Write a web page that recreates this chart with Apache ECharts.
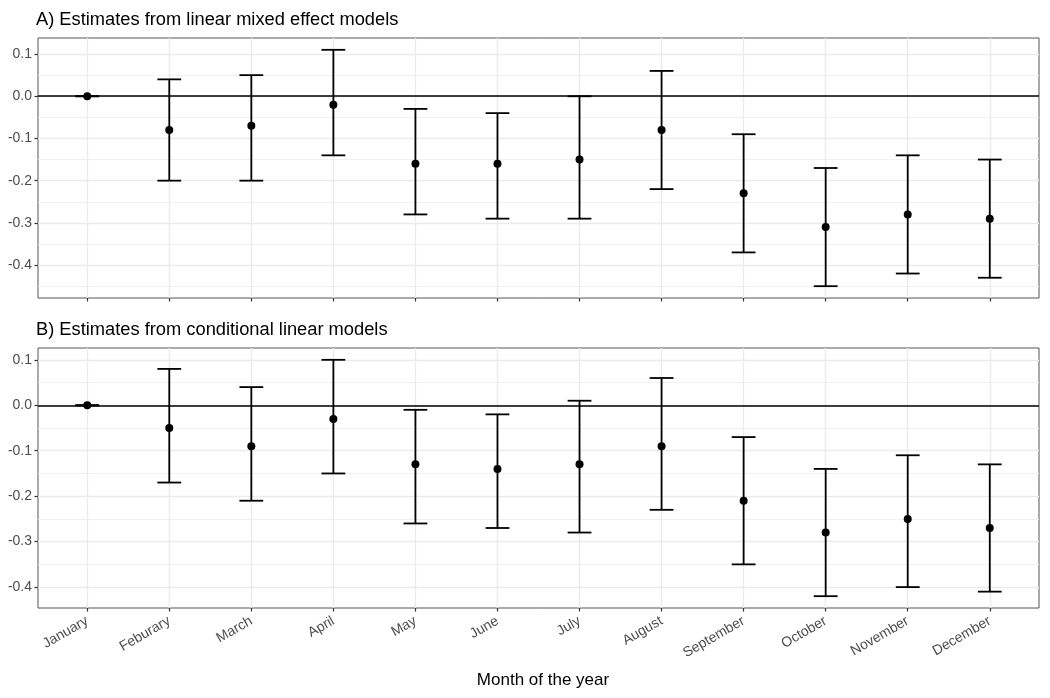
<!DOCTYPE html>
<html>
<head>
<meta charset="utf-8">
<script src="https://cdn.jsdelivr.net/npm/echarts@6/dist/echarts.min.js"></script>
<style>
  html, body { margin: 0; padding: 0; background: #fff; }
  #chart { width: 1050px; height: 698px; }
</style>
</head>
<body>
<div id="chart"></div>
<script>
// month labels (spelling as in the original figure)
const months = ['January', 'Feburary', 'March', 'April', 'May', 'June', 'July',
  'August', 'September', 'October', 'November', 'December']

// A) linear mixed effect models
const mixedEst = [0, -0.08, -0.07, -0.02, -0.16, -0.16, -0.15, -0.08, -0.23, -0.31, -0.28, -0.29]
const mixedLow = [0, -0.20, -0.20, -0.14, -0.28, -0.29, -0.29, -0.22, -0.37, -0.45, -0.42, -0.43]
const mixedHigh = [0, 0.04, 0.05, 0.11, -0.03, -0.04, 0.00, 0.06, -0.09, -0.17, -0.14, -0.15]

// B) conditional linear models
const condEst = [0, -0.05, -0.09, -0.03, -0.13, -0.14, -0.13, -0.09, -0.21, -0.28, -0.25, -0.27]
const condLow = [0, -0.17, -0.21, -0.15, -0.26, -0.27, -0.28, -0.23, -0.35, -0.42, -0.40, -0.41]
const condHigh = [0, 0.08, 0.04, 0.10, -0.01, -0.02, 0.01, 0.06, -0.07, -0.14, -0.11, -0.13]

const yMajor = [-0.4, -0.3, -0.2, -0.1, 0.0, 0.1]
const yMinor = [-0.45, -0.35, -0.25, -0.15, -0.05, 0.05]

const FONT = 'Liberation Sans, Arial, sans-serif'
const CAP = 0.29

// ggplot-like 5% expansion of the data range
function yRange(low, high) {
  const lo = Math.min(...low)
  const hi = Math.max(...high)
  const pad = (hi - lo) * 0.05
  return [lo - pad, hi + pad]
}

function renderErrorBar(params, api) {
  const x = api.value(0)
  const lo = api.coord([x, api.value(1)])
  const hi = api.coord([x, api.value(2)])
  const half = api.size([CAP, 0])[0] / 2
  const st = () => ({ stroke: '#000', lineWidth: 1.8 })
  return {
    type: 'group',
    children: [
      { type: 'line', shape: { x1: hi[0], y1: hi[1], x2: lo[0], y2: lo[1] }, style: st() },
      { type: 'line', shape: { x1: hi[0] - half, y1: hi[1], x2: hi[0] + half, y2: hi[1] }, style: st() },
      { type: 'line', shape: { x1: lo[0] - half, y1: lo[1], x2: lo[0] + half, y2: lo[1] }, style: st() }
    ]
  }
}

const idx = months.map((m, i) => i)

function xAxisFor(gridIndex, showLabels) {
  return {
    type: 'value', gridIndex, min: -0.6, max: 11.6, position: 'bottom',
    axisLine: { show: false, onZero: false },
    axisTick: { show: true, length: 3.5, customValues: idx, lineStyle: { color: '#333', width: 1.2 } },
    axisLabel: {
      show: showLabels, customValues: idx, rotate: 30, margin: 12,
      formatter: v => months[Math.round(v)] || '',
      color: '#4d4d4d', fontFamily: FONT, fontSize: 14
    },
    splitLine: { show: true, lineStyle: { color: '#ebebeb', width: 1.4 } }
  }
}

function yAxesFor(gridIndex, range) {
  const minor = yMinor.filter(v => v >= range[0] && v <= range[1])
  return [{
    type: 'value', gridIndex, position: 'left', min: range[0], max: range[1],
    axisLine: { show: false, onZero: false },
    axisTick: { show: true, length: 3.5, customValues: yMajor, lineStyle: { color: '#333', width: 1.2 } },
    axisLabel: {
      customValues: yMajor, margin: 6, formatter: v => v.toFixed(1),
      color: '#4d4d4d', fontFamily: FONT, fontSize: 14
    },
    splitLine: { show: true, lineStyle: { color: '#ebebeb', width: 1.4 } }
  }, {
    type: 'value', gridIndex, position: 'right', min: range[0], max: range[1],
    axisLine: { show: false, onZero: false }, axisLabel: { show: false },
    axisTick: { show: false, customValues: minor },
    splitLine: { show: true, lineStyle: { color: '#efefef', width: 0.9 } }
  }]
}

function panelSeries(k, est, low, high) {
  return [{
    type: 'custom', xAxisIndex: k, yAxisIndex: k * 2,
    renderItem: renderErrorBar,
    encode: { x: 0, y: [1, 2] },
    data: idx.map(i => [i, low[i], high[i]]),
    z: 3,
    markLine: {
      silent: true, symbol: ['none', 'none'], label: { show: false },
      lineStyle: { color: '#000', width: 1.5, type: 'solid', opacity: 1 },
      data: [{ yAxis: 0 }]
    }
  }, {
    type: 'scatter', xAxisIndex: k, yAxisIndex: k * 2,
    symbol: 'circle', symbolSize: 8,
    itemStyle: { color: '#000', opacity: 1 },
    data: idx.map(i => [i, est[i]]),
    z: 4
  }]
}

const rangeA = yRange(mixedLow, mixedHigh)
const rangeB = yRange(condLow, condHigh)

const chart = echarts.init(document.getElementById('chart'), null, { renderer: 'canvas' })
chart.setOption({
  animation: false,
  backgroundColor: '#fff',
  title: [
    { text: 'A) Estimates from linear mixed effect models', left: 31, top: 6,
      textStyle: { fontFamily: FONT, fontSize: 18.3, fontWeight: 'normal', color: '#000' } },
    { text: 'B) Estimates from conditional linear models', left: 31, top: 316,
      textStyle: { fontFamily: FONT, fontSize: 18.3, fontWeight: 'normal', color: '#000' } },
    { text: 'Month of the year', left: 538, textAlign: 'center', top: 667,
      textStyle: { fontFamily: FONT, fontSize: 17, fontWeight: 'normal', color: '#000' } }
  ],
  grid: [
    { left: 38, right: 11, top: 38, height: 260, show: true, borderColor: '#555', borderWidth: 1, backgroundColor: 'transparent' },
    { left: 38, right: 11, top: 348, height: 260, show: true, borderColor: '#555', borderWidth: 1, backgroundColor: 'transparent' }
  ],
  xAxis: [xAxisFor(0, false), xAxisFor(1, true)],
  yAxis: [...yAxesFor(0, rangeA), ...yAxesFor(1, rangeB)],
  series: [
    ...panelSeries(0, mixedEst, mixedLow, mixedHigh),
    ...panelSeries(1, condEst, condLow, condHigh)
  ]
})
</script>
</body>
</html>
